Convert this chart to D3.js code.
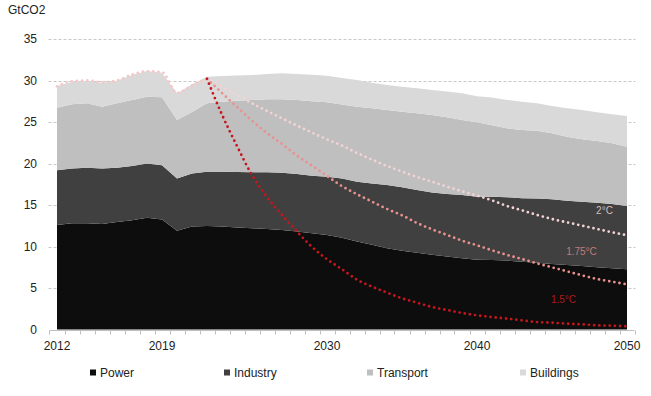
<!DOCTYPE html>
<html>
<head>
<meta charset="utf-8">
<script src="https://cdn.jsdelivr.net/npm/d3@7"></script>
<style>
  html, body { margin: 0; padding: 0; background: #fff; }
  text { font-family: "Liberation Sans", Arial, sans-serif; }
</style>
</head>
<body>
<svg id="chart" width="651" height="396"></svg>
<script>
// ---- data (GtCO2) ----
const years = d3.range(2012, 2051);
const tickYears = [2012, 2019, 2030, 2040, 2050];
const yTicks = [0, 5, 10, 15, 20, 25, 30, 35];

const power = [12.6, 12.8, 12.8, 12.7, 12.95, 13.15, 13.45, 13.25, 11.9, 12.4,
  12.47, 12.4, 12.3, 12.2, 12.1, 12.0, 11.8, 11.6, 11.4, 11.06,
  10.6, 10.2, 9.8, 9.5, 9.25, 9.0, 8.8, 8.57, 8.4, 8.37,
  8.3, 8.17, 8.05, 7.9, 7.77, 7.65, 7.5, 7.37, 7.25];
const industry = [6.6, 6.6, 6.7, 6.7, 6.55, 6.55, 6.55, 6.55, 6.3, 6.4,
  6.53, 6.6, 6.67, 6.75, 6.85, 6.9, 6.93, 6.93, 7.0, 7.14,
  7.2, 7.4, 7.6, 7.63, 7.55, 7.5, 7.53, 7.63, 7.6, 7.63,
  7.63, 7.63, 7.72, 7.79, 7.75, 7.75, 7.78, 7.75, 7.63];
const transport = [7.53, 7.73, 7.75, 7.45, 7.75, 7.95, 8.05, 8.17, 7.04, 7.4,
  8.25, 8.45, 8.58, 8.7, 8.78, 8.83, 8.92, 8.97, 8.97, 8.9,
  9.05, 9.05, 9.05, 9.12, 9.25, 9.35, 9.24, 9.04, 8.96, 8.6,
  8.31, 8.24, 8.18, 7.95, 7.71, 7.51, 7.43, 7.31, 7.14];
const buildings = [2.61, 2.69, 2.73, 2.89, 2.73, 3.01, 3.09, 2.97, 3.22, 3.34,
  3.21, 3.09, 3.05, 3.01, 3.05, 3.13, 3.13, 3.2, 3.21, 3.2,
  3.21, 3.09, 3.01, 3.01, 3.01, 3.01, 3.09, 3.22, 3.14, 3.35,
  3.41, 3.41, 3.3, 3.29, 3.42, 3.54, 3.46, 3.49, 3.7];

// historic total, 2012-2022
const historic = [29.3, 29.9, 30.0, 29.8, 30.0, 30.7, 31.1, 31.0, 28.5, 29.4, 30.2];

// pathways, 2022-2050
const deg20 = [30.2, 29.26, 28.29, 27.25, 26.33, 25.44, 24.56, 23.71, 22.91, 22.15,
  21.27, 20.46, 19.7, 19.02, 18.37, 17.81, 17.2, 16.65, 16.12, 15.56,
  14.88, 14.36, 13.8, 13.31, 12.91, 12.51, 12.11, 11.71, 11.35];
const deg175 = [30.2, 28.49, 26.8, 25.16, 23.67, 22.35, 20.94, 19.74, 18.49, 17.27,
  16.29, 15.4, 14.52, 13.76, 12.83, 12.07, 11.39, 10.7, 10.14, 9.54,
  8.98, 8.49, 7.97, 7.49, 7.01, 6.53, 6.08, 5.76, 5.44];
const deg15 = [30.2, 25.88, 22.1, 18.6, 15.96, 13.8, 11.8, 9.94, 8.46, 7.25,
  6.0, 5.16, 4.44, 3.76, 3.23, 2.71, 2.35, 1.99, 1.71, 1.49,
  1.31, 1.1, 0.9, 0.82, 0.7, 0.62, 0.5, 0.46, 0.38];

const sectors = ["Power", "Industry", "Transport", "Buildings"];
const sectorColors = ["#0d0d0d", "#404040", "#bfbfbf", "#d9d9d9"];

// ---- layout ----
const svg = d3.select("#chart");
const x = d3.scaleLinear().domain([2012, 2050]).range([57, 627]);
const y = d3.scaleLinear().domain([0, 35]).range([329.5, 39]);
const step = x(2013) - x(2012);

// gridlines
svg.append("g")
  .selectAll("line")
  .data(yTicks.filter(d => d > 0))
  .join("line")
  .attr("x1", x(2012) - step / 2 - 1)
  .attr("x2", x(2050) + step / 2 + 1)
  .attr("y1", d => Math.round(y(d)) + 0.5)
  .attr("y2", d => Math.round(y(d)) + 0.5)
  .attr("stroke", "#c8c8c8")
  .attr("stroke-dasharray", "3,2");

// y labels
svg.append("g")
  .selectAll("text")
  .data(yTicks)
  .join("text")
  .attr("x", 37)
  .attr("y", d => y(d))
  .attr("dy", "0.35em")
  .attr("text-anchor", "end")
  .style("font-size", "12px")
  .style("fill", "#222")
  .text(d => d);

svg.append("text")
  .attr("x", 8).attr("y", 14)
  .style("font-size", "12px")
  .style("fill", "#222")
  .text("GtCO2");

// stacked areas
const table = years.map((yr, i) => ({
  year: yr, Power: power[i], Industry: industry[i], Transport: transport[i], Buildings: buildings[i]
}));
const stacked = d3.stack().keys(sectors)(table);
const area = d3.area()
  .x(d => x(d.data.year))
  .y0(d => y(d[0]))
  .y1(d => y(d[1]));

svg.append("g")
  .selectAll("path")
  .data(stacked)
  .join("path")
  .attr("fill", (d, i) => sectorColors[i])
  .attr("d", area);

// x axis
const xAxisY = Math.round(y(0)) + 0.5;
svg.append("line")
  .attr("x1", x(2012) - step / 2).attr("x2", x(2050) + step / 2)
  .attr("y1", xAxisY).attr("y2", xAxisY)
  .attr("stroke", "#bfbfbf");
svg.append("g")
  .selectAll("line")
  .data(d3.range(2011.5, 2051, 1))
  .join("line")
  .attr("x1", d => Math.round(x(d)) + 0.5)
  .attr("x2", d => Math.round(x(d)) + 0.5)
  .attr("y1", xAxisY).attr("y2", xAxisY + 4)
  .attr("stroke", "#bfbfbf");
svg.append("g")
  .selectAll("text")
  .data(tickYears)
  .join("text")
  .attr("x", d => x(d))
  .attr("y", 350)
  .attr("text-anchor", "middle")
  .style("font-size", "12px")
  .style("fill", "#222")
  .text(d => d);

// dotted lines
const line = d3.line()
  .x(d => x(d.year))
  .y(d => y(d.v))
  .curve(d3.curveMonotoneX);

const dotted = [
  { vals: historic, start: 2012, color: "#f7c6c6" },
  { vals: deg20, start: 2022, color: "#f3d3d3" },
  { vals: deg175, start: 2022, color: "#e8918e" },
  { vals: deg15, start: 2022, color: "#c4161c" }
];
dotted.forEach(s => {
  svg.append("path")
    .datum(s.vals.map((v, i) => ({ year: s.start + i, v })))
    .attr("fill", "none")
    .attr("stroke", s.color)
    .attr("stroke-width", 2.8)
    .attr("stroke-linecap", "round")
    .attr("stroke-dasharray", "0 5.2")
    .attr("d", line);
});

// pathway labels
const pathLabels = [
  { text: "2°C", x: 604.5, y: 210.5, color: "#d6bcbc" },
  { text: "1.75°C", x: 581.5, y: 251, color: "#c47a78" },
  { text: "1.5°C", x: 563.5, y: 299, color: "#b0191e" }
];
svg.append("g")
  .selectAll("text")
  .data(pathLabels)
  .join("text")
  .attr("x", d => d.x)
  .attr("y", d => d.y)
  .attr("dy", "0.35em")
  .attr("text-anchor", "middle")
  .style("font-size", "10px")
  .style("fill", d => d.color)
  .text(d => d.text);

// legend
const legendX = [90, 224, 367, 520];
const legend = svg.append("g")
  .selectAll("g")
  .data(sectors)
  .join("g")
  .attr("transform", (d, i) => `translate(${legendX[i]},373)`);
legend.append("rect")
  .attr("x", 0).attr("y", -3.5)
  .attr("width", 6).attr("height", 6)
  .attr("fill", (d, i) => sectorColors[i]);
legend.append("text")
  .attr("x", 10)
  .attr("dy", "0.35em")
  .style("font-size", "12px")
  .style("fill", "#222")
  .text(d => d);
</script>
</body>
</html>
